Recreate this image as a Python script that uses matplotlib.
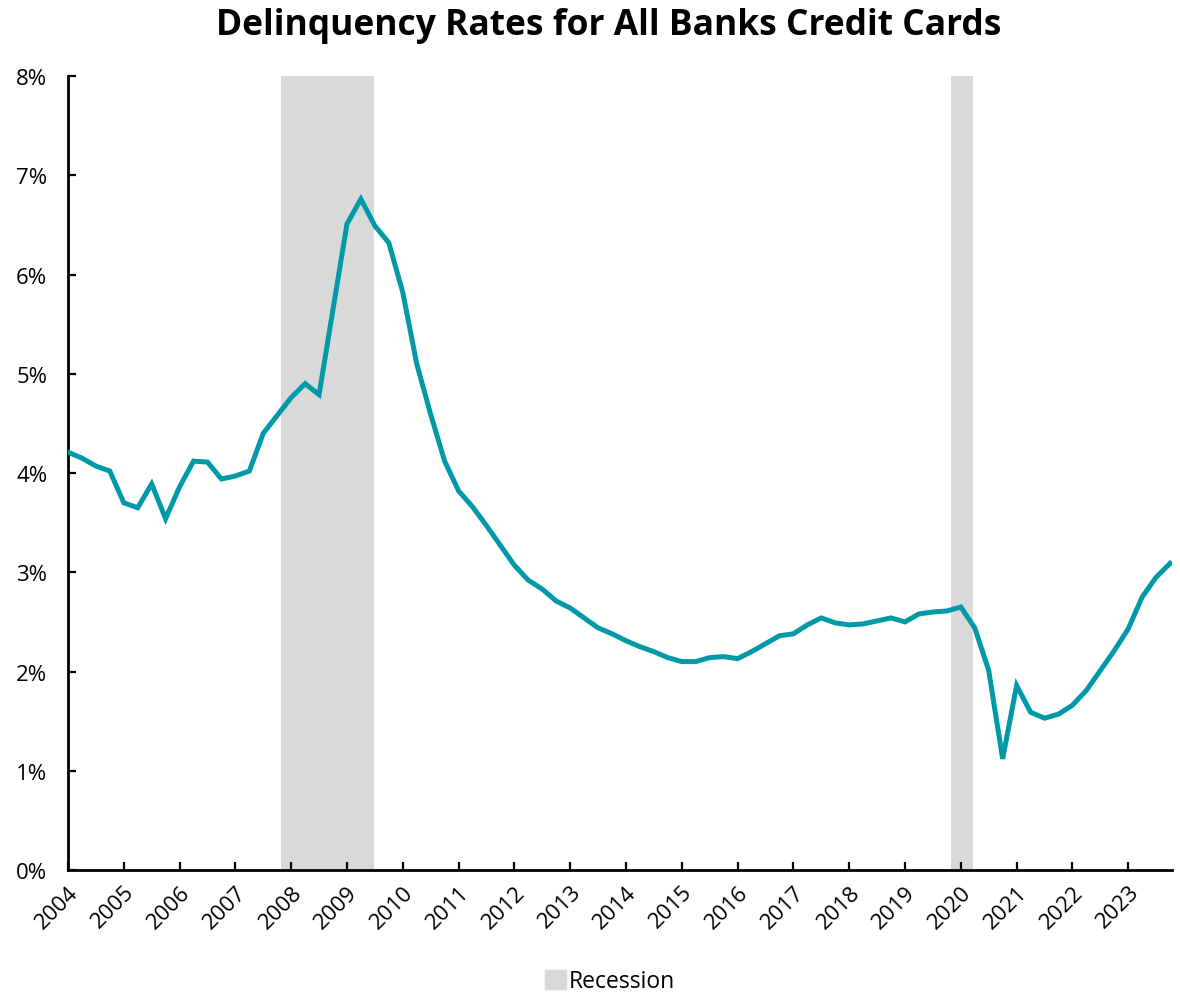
import matplotlib.pyplot as plt
import matplotlib.patches as mpatches
from matplotlib.ticker import FuncFormatter
import numpy as np

plt.rcParams['font.family'] = ['Open Sans', 'DejaVu Sans']

# quarterly delinquency rate (%), 2004 Q1 .. 2023 Q4
rate = [
    4.21, 4.15, 4.07, 4.02, 3.70, 3.65, 3.89, 3.54,  # 2004-2005
    3.86, 4.12, 4.11, 3.94, 3.97, 4.02, 4.40, 4.58,  # 2006-2007
    4.76, 4.90, 4.79, 5.65, 6.51, 6.76, 6.49, 6.32,  # 2008-2009
    5.82, 5.10, 4.59, 4.12, 3.82, 3.66, 3.47, 3.27,  # 2010-2011
    3.07, 2.92, 2.83, 2.71, 2.64, 2.54, 2.44, 2.38,  # 2012-2013
    2.31, 2.25, 2.20, 2.14, 2.10, 2.10, 2.14, 2.15,  # 2014-2015
    2.13, 2.20, 2.28, 2.36, 2.38, 2.47, 2.54, 2.49,  # 2016-2017
    2.47, 2.48, 2.51, 2.54, 2.50, 2.58, 2.60, 2.61,  # 2018-2019
    2.65, 2.44, 2.01, 1.12, 1.86, 1.59, 1.53, 1.57,  # 2020-2021
    1.66, 1.81, 2.01, 2.21, 2.43, 2.75, 2.95, 3.09,  # 2022-2023
]
quarters = 2004 + np.arange(len(rate)) / 4

recessions = [(2007.82, 2009.49), (2019.83, 2020.22)]
years = list(range(2004, 2024))

fig = plt.figure(figsize=(11.8, 9.95), dpi=100)
ax = fig.add_axes([0.0576, 0.1246, 0.9354, 0.798])

for start, end in recessions:
    ax.axvspan(start, end, color='#d9d9d9', lw=0, zorder=0)

ax.plot(quarters, rate, color='#0099a8', lw=3.6, solid_joinstyle='miter', zorder=3)

ax.set_xlim(2004, 2023.78)
ax.set_ylim(0, 8)
ax.set_xticks(years)
ax.set_xticklabels([str(y) for y in years], rotation=45, ha='right',
                   rotation_mode='anchor')
ax.set_yticks(range(0, 9))
ax.yaxis.set_major_formatter(FuncFormatter(lambda v, p: f'{int(v)}%'))

for side in ['top', 'right']:
    ax.spines[side].set_visible(False)
for side in ['left', 'bottom']:
    ax.spines[side].set_linewidth(2)
    ax.spines[side].set_color('black')
ax.tick_params(direction='in', length=6, width=1.6, labelsize=16, colors='black')
ax.tick_params(axis='x', pad=8)
ax.tick_params(axis='y', pad=15)

fig.suptitle('Delinquency Rates for All Banks Credit Cards', x=0.516, y=0.992,
             fontsize=25.5, fontweight='bold')

patch = mpatches.Patch(color='#d9d9d9', label='Recession')
fig.legend(handles=[patch], loc='lower center', bbox_to_anchor=(0.517, -0.02),
           frameon=False, fontsize=16.5, handlelength=0.9, handleheight=0.9,
           handletextpad=0.1)

fig.savefig('out.png', dpi=100)
